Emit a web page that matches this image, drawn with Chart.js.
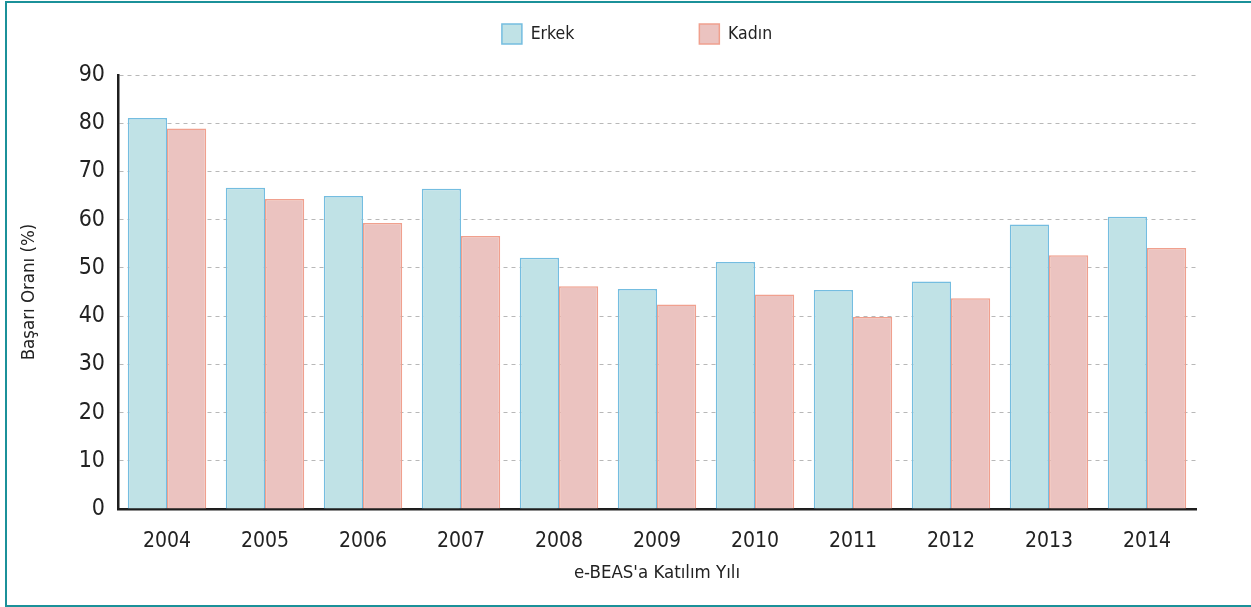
<!DOCTYPE html>
<html lang="tr">
<head>
    <meta charset="UTF-8">
    <title>e-BEAS Başarı Oranı</title>
    <script src="https://cdn.jsdelivr.net/npm/chart.js"></script>
    <style>
        html, body {
            margin: 0;
            padding: 0;
            background-color: #fff;
            overflow: hidden;
            width: 1251px;
            height: 607px;
        }
        .frame {
            position: absolute;
            left: 5px;
            top: 1px;
            width: 1246px;
            height: 606px;
            box-sizing: border-box;
            border-top: 2px solid #1b9199;
            border-left: 2px solid #1b9199;
            border-bottom: 2px solid #1b9199;
        }
        .frame canvas {
            display: block;
        }
    </style>
</head>
<body>
<div class="frame">
    <canvas id="basariChart" width="1244" height="602"></canvas>
</div>
<script>
    // Veriler
    const yillar = ['2004', '2005', '2006', '2007', '2008', '2009', '2010', '2011', '2012', '2013', '2014'];
    const erkek = [81.1, 66.6, 64.9, 66.4, 52.1, 45.6, 51.2, 45.4, 47.2, 59.0, 60.6];
    const kadin = [78.9, 64.3, 59.3, 56.6, 46.2, 42.4, 44.5, 39.8, 43.7, 52.6, 54.1];
    const yTicks = [0, 10, 20, 30, 40, 50, 60, 70, 80, 90];

    const fontAile = "'DejaVu Sans Condensed', 'DejaVu Sans', sans-serif";
    const yaziRengi = '#222';

    const ctx = document.getElementById('basariChart').getContext('2d');
    const basariChart = new Chart(ctx, {
        type: 'bar',
        data: {
            labels: yillar,
            datasets: [
                {
                    label: 'Erkek',
                    data: erkek,
                    backgroundColor: '#c0e2e6',
                    borderColor: '#74bde0',
                    borderWidth: 1.5
                },
                {
                    label: 'Kadın',
                    data: kadin,
                    backgroundColor: '#ebc3c0',
                    borderColor: '#f0a08e',
                    borderWidth: 1.5
                }
            ]
        },
        options: {
            responsive: false,
            animation: false,
            layout: {
                padding: { top: 11, right: 55, bottom: 0, left: 0 }
            },
            datasets: {
                bar: { categoryPercentage: 0.8, barPercentage: 1.0 }
            },
            plugins: {
                legend: {
                    position: 'top',
                    fullSize: false,
                    labels: {
                        color: yaziRengi,
                        font: { family: fontAile, size: 17.5 },
                        boxWidth: 20,
                        boxHeight: 20,
                        padding: 10,
                        // aradaki boşluk için etiketlere boşluk ekleniyor
                        generateLabels: (chart) => {
                            const items = Chart.defaults.plugins.legend.labels.generateLabels(chart);
                            items[0].text = items[0].text + ' '.repeat(23);
                            items[1].text = items[1].text + ' '.repeat(8);
                            return items;
                        }
                    }
                },
                // lejant ile grafik arasında boşluk
                subtitle: {
                    display: true,
                    text: ' ',
                    position: 'top',
                    fullSize: false,
                    weight: 900,
                    font: { size: 10 },
                    padding: { top: 0, bottom: 9 }
                },
                tooltip: { enabled: false }
            },
            scales: {
                x: {
                    grid: { display: false, drawTicks: false },
                    border: { color: '#1e1e1e', width: 2.5 },
                    ticks: {
                        color: yaziRengi,
                        font: { family: fontAile, size: 21 },
                        padding: 20
                    },
                    title: {
                        display: true,
                        text: "e-BEAS'a Katılım Yılı",
                        color: yaziRengi,
                        font: { family: fontAile, size: 18.5 },
                        padding: 21
                    },
                    afterFit: (scale) => { scale.height = 96; }
                },
                y: {
                    min: 0,
                    max: 90,
                    afterBuildTicks: (scale) => {
                        scale.ticks = yTicks.map(v => ({ value: v }));
                    },
                    grid: {
                        color: '#b8b8b8',
                        lineWidth: 1,
                        drawTicks: false
                    },
                    border: { color: '#1e1e1e', width: 2.5, dash: [4, 4] },
                    ticks: {
                        color: yaziRengi,
                        font: { family: fontAile, size: 23 },
                        padding: 13
                    },
                    title: {
                        display: true,
                        text: 'Başarı Oranı (%)',
                        color: yaziRengi,
                        font: { family: fontAile, size: 18.5 },
                        padding: 11
                    },
                    afterFit: (scale) => { scale.width = 111; }
                }
            }
        }
    });
</script>
</body>
</html>
